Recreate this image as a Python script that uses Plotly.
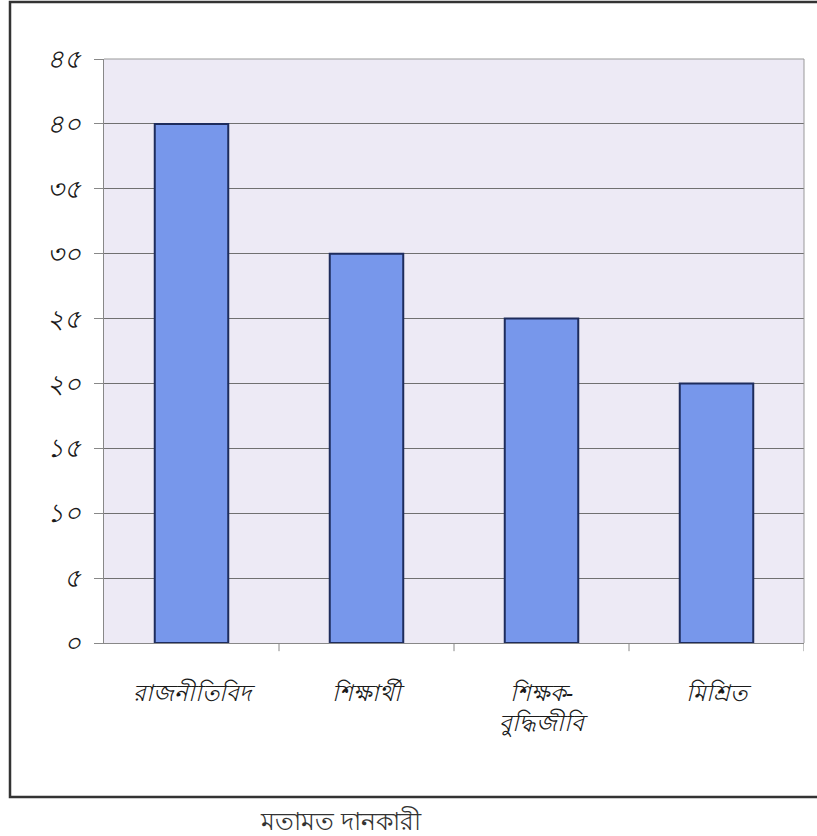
import plotly.graph_objects as go

categories = ["রাজনীতিবিদ", "শিক্ষার্থী", "শিক্ষক-<br>বুদ্ধিজীবি", "মিশ্রিত"]
values = [40, 30, 25, 20]
y_tick_vals = [0, 5, 10, 15, 20, 25, 30, 35, 40, 45]
y_tick_text = ["০", "৫", "১০", "১৫", "২০", "২৫", "৩০", "৩৫", "৪০", "৪৫"]
x_title = "মতামত দানকারী"

W, H = 817, 836
ml, mr, mt, mb = 104, 13, 59, 193
pw, ph = W - ml - mr, H - mt - mb

def px_x(x):
    return (x - ml) / pw

def px_y(y):
    return (H - mb - y) / ph

fig = go.Figure()
fig.add_trace(go.Bar(
    x=list(range(len(categories))),
    y=values,
    width=0.42,
    marker=dict(color="#7797EB", line=dict(color="#1E2C5C", width=2)),
))

# boundary ticks on the category axis
for b in [0.5, 1.5, 2.5, 3.5]:
    fig.add_shape(type="line", xref="x", yref="paper", x0=b, x1=b,
                  y0=0, y1=-0.014, line=dict(color="#888888", width=1))

# outer frame
fig.add_shape(type="rect", xref="paper", yref="paper",
              x0=px_x(10), x1=px_x(822), y0=px_y(797), y1=px_y(2),
              line=dict(color="#333333", width=2.5), fillcolor="rgba(0,0,0,0)")

fig.update_layout(
    width=W, height=H,
    margin=dict(l=ml, r=mr, t=mt, b=mb),
    paper_bgcolor="white",
    plot_bgcolor="#EDEAF5",
    showlegend=False,
    font=dict(family="Noto Sans, DejaVu Sans, sans-serif", color="#222222"),
)
fig.update_xaxes(
    tickvals=list(range(len(categories))),
    ticktext=["<i>" + c.replace("<br>", "</i><br><i>") + "</i>" for c in categories],
    range=[-0.5, 3.5],
    showgrid=False,
    showline=True, linecolor="#888888", linewidth=1,
    ticks="", tickfont=dict(size=23, color="#1a1a1a"),
    ticklabelstandoff=29,
)
fig.update_yaxes(
    range=[0, 45],
    tickvals=y_tick_vals,
    ticktext=["<i>" + t + "</i>" for t in y_tick_text],
    showgrid=True, gridcolor="#707070", gridwidth=1,
    showline=True, linecolor="#888888", linewidth=1,
    mirror=False,
    ticks="outside", ticklen=9, tickcolor="#888888",
    tickfont=dict(size=26, color="#1a1a1a"),
    ticklabelstandoff=8,
    zeroline=False,
)
# right and top borders of the plot area
fig.add_shape(type="line", xref="paper", yref="paper", x0=1, x1=1, y0=0, y1=1,
              line=dict(color="#999999", width=1))
fig.add_shape(type="line", xref="paper", yref="paper", x0=0, x1=1, y0=1, y1=1,
              line=dict(color="#999999", width=1))

fig.add_annotation(text=x_title, xref="paper", yref="paper",
                   x=px_x(341), y=px_y(820), xanchor="center", yanchor="middle",
                   showarrow=False,
                   font=dict(size=25, color="#333333"))

fig.write_html("out.html")
